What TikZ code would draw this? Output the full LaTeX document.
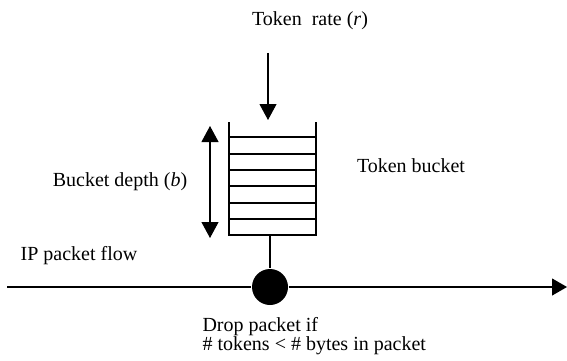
\documentclass[tikz,border=0pt]{standalone}
\usepackage{fontspec}
\setmainfont{Liberation Serif}
\usetikzlibrary{arrows.meta}
\tikzset{
    txt/.style={font=\fontsize{20}{19}\selectfont, inner sep=0pt},
    bigtip/.style={-{Triangle[width=17pt,length=16pt]}},
}
\begin{document}
\begin{tikzpicture}[x=1pt, y=-1pt, line width=1.1pt]
        \useasboundingbox (0,0) rectangle (567,361);
        % Draw labels
        \node[txt] (rate) at (310,21) {Token\ \ rate (\textit{r})};
        \node[txt] (depth) at (120,182) {Bucket depth (\textit{b})};
        \node[txt] (bucket) at (411,166) {Token bucket};
        \node[txt] (flow) at (79,256) {IP packet flow};
        \node[txt, align=left, anchor=north west] (rule) at (202,317) {Drop packet if\\\# tokens < \# bytes in packet};
        % Draw bucket
        \coordinate (tl) at (229,122);
        \coordinate (tr) at (316,122);
        \coordinate (bl) at (229,235);
        \coordinate (br) at (316,235);
        \draw (tl) -- (bl) -- (br) -- (tr);
        \foreach \y in {137,154,170,186,203,219} {
            \draw (229,\y) -- (316,\y);
        }
        % Draw token arrow
        \coordinate (in) at (268,53);
        \coordinate (top) at (268,120);
        \draw [bigtip] (in) -- (top);
        % Draw depth
        \coordinate (dtop) at (210,126);
        \coordinate (dbot) at (210,238);
        \draw [{Triangle[width=17pt,length=16pt]}-{Triangle[width=17pt,length=16pt]}] (dtop) -- (dbot);
        % Draw flow
        \node [circle, fill, inner sep=0pt, minimum size=36pt] (drop) at (270,287) {};
        \coordinate (stem) at (270,235);
        \coordinate (src) at (7,287);
        \coordinate (dst) at (567,287);
        \draw (stem) -- (drop);
        \draw (src) -- (drop);
        \draw [-{Triangle[width=17pt,length=15pt]}] (drop) -- (dst);
    \end{tikzpicture}
\end{document}
